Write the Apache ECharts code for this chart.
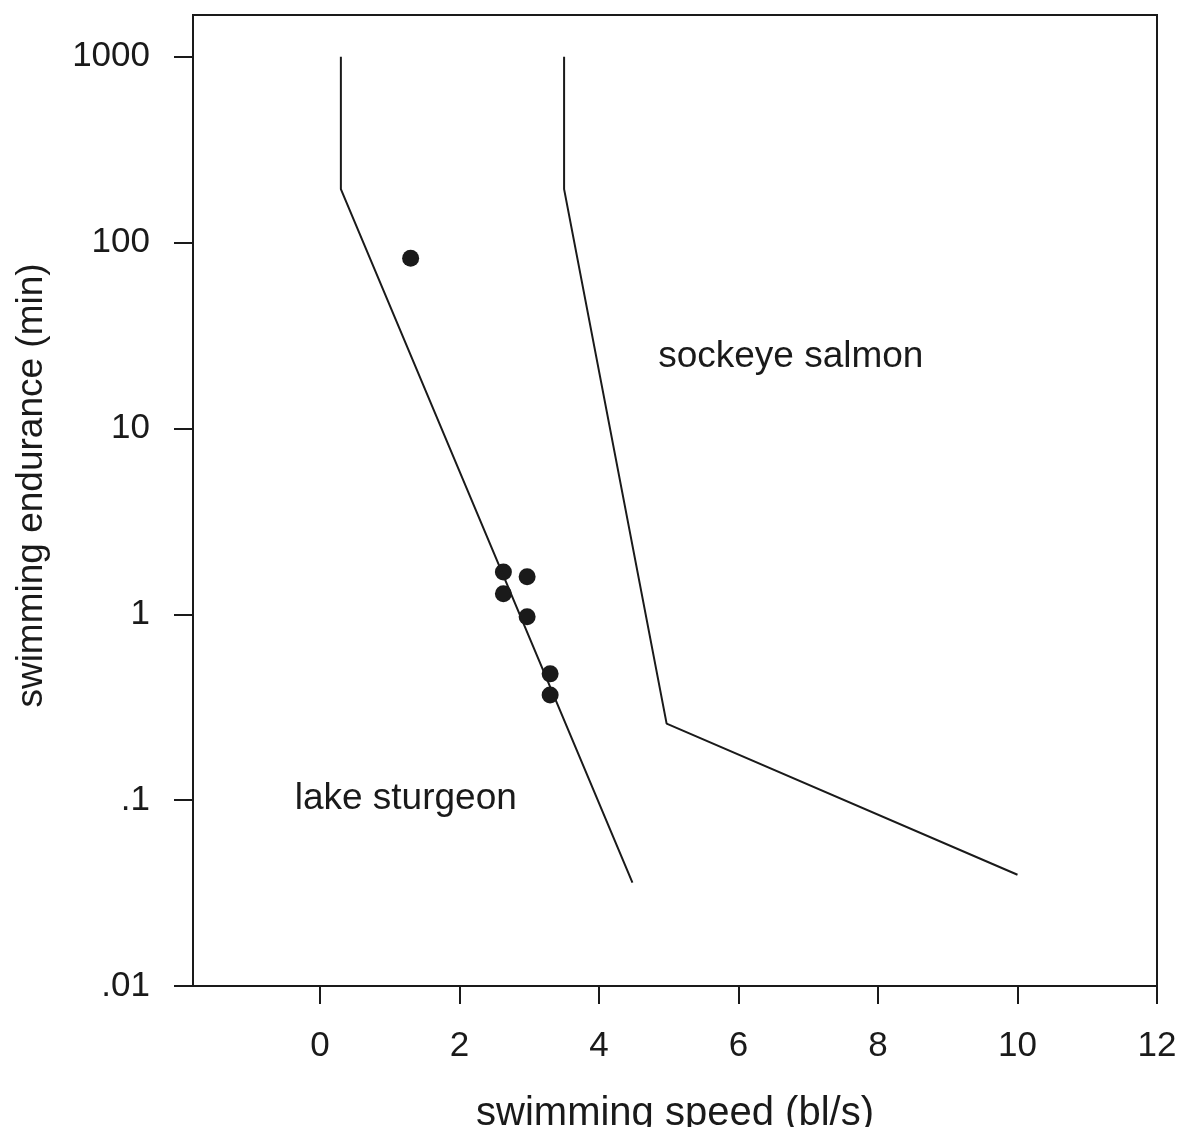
<!DOCTYPE html>
<html>
<head>
<meta charset="utf-8">
<script src="https://cdn.jsdelivr.net/npm/echarts@6/dist/echarts.min.js"></script>
<style>
  html, body { margin: 0; padding: 0; background: #fff; }
  #chart { width: 1183px; height: 1127px; }
</style>
</head>
<body>
<div id="chart"></div>
<script>
// lake sturgeon curve
const sturgeonSpeed = [0.3, 0.3, 4.48];
const sturgeonEndurance = [1000, 194, 0.036];
// sockeye salmon curve
const salmonSpeed = [3.5, 3.5, 4.97, 10];
const salmonEndurance = [1000, 194, 0.258, 0.0397];
// measured points
const pointSpeed = [1.3, 2.63, 2.97, 2.63, 2.97, 3.3, 3.3];
const pointEndurance = [82.4, 1.69, 1.59, 1.29, 0.97, 0.478, 0.368];
// text labels
const labelNames = ['sockeye salmon', 'lake sturgeon'];
const labelSpeed = [6.75, 1.23];
const labelEndurance = [24.4, 0.102];
// ticks
const xTicks = [0, 2, 4, 6, 8, 10, 12];
const yTicks = [0.01, 0.1, 1, 10, 100, 1000];
const yTickText = { 0.01: '.01', 0.1: '.1', 1: '1', 10: '10', 100: '100', 1000: '1000' };

const ink = '#1a1a1a';
const font = 'Liberation Sans, Arial, sans-serif';

const zip = (xs, ys) => xs.map((x, i) => [x, ys[i]]);

const chart = echarts.init(document.getElementById('chart'));
chart.setOption({
  backgroundColor: '#fff',
  animation: false,
  grid: {
    left: 193, right: 26, top: 15, bottom: 141,
    containLabel: false,
    outerBoundsMode: 'none',
    show: true, borderColor: ink, borderWidth: 2, backgroundColor: 'transparent'
  },
  xAxis: {
    type: 'value',
    min: -1.82,
    max: 12,
    name: 'swimming speed (bl/s)',
    nameLocation: 'middle',
    nameGap: 108,
    nameTextStyle: { fontFamily: font, fontSize: 40, color: ink },
    axisLine: { show: true, onZero: false, lineStyle: { color: ink, width: 2 } },
    axisTick: { show: true, length: 18, lineStyle: { color: ink, width: 2 }, customValues: xTicks },
    axisLabel: { fontFamily: font, fontSize: 35, color: ink, margin: 43, customValues: xTicks },
    splitLine: { show: false }
  },
  yAxis: {
    type: 'log',
    logBase: 10,
    min: 0.01,
    max: 1677,
    name: 'swimming endurance (min)',
    nameLocation: 'middle',
    nameGap: 143,
    nameTextStyle: { fontFamily: font, fontSize: 37, color: ink, padding: [0, 0, 0, 30] },
    axisLine: { show: true, onZero: false, lineStyle: { color: ink, width: 2 } },
    axisTick: { show: true, length: 19, lineStyle: { color: ink, width: 2 }, customValues: yTicks },
    axisLabel: {
      fontFamily: font, fontSize: 35, color: ink, margin: 43,
      customValues: yTicks,
      formatter: v => yTickText[v] !== undefined ? yTickText[v] : ''
    },
    splitLine: { show: false }
  },
  series: [
    {
      type: 'line',
      data: zip(sturgeonSpeed, sturgeonEndurance),
      symbol: 'none',
      lineStyle: { color: ink, width: 2 }
    },
    {
      type: 'line',
      data: zip(salmonSpeed, salmonEndurance),
      symbol: 'none',
      lineStyle: { color: ink, width: 2 }
    },
    {
      type: 'scatter',
      data: zip(pointSpeed, pointEndurance),
      symbol: 'circle',
      symbolSize: 17,
      itemStyle: { color: ink, opacity: 1 }
    },
    {
      type: 'scatter',
      data: labelNames.map((n, i) => ({ name: n, value: [labelSpeed[i], labelEndurance[i]] })),
      symbolSize: 2,
      itemStyle: { color: 'rgba(0,0,0,0)', opacity: 1 },
      label: {
        show: true,
        position: 'inside',
        formatter: p => p.name,
        fontFamily: font,
        fontSize: 37,
        color: ink,
        textBorderWidth: 0
      }
    }
  ]
});
</script>
</body>
</html>
